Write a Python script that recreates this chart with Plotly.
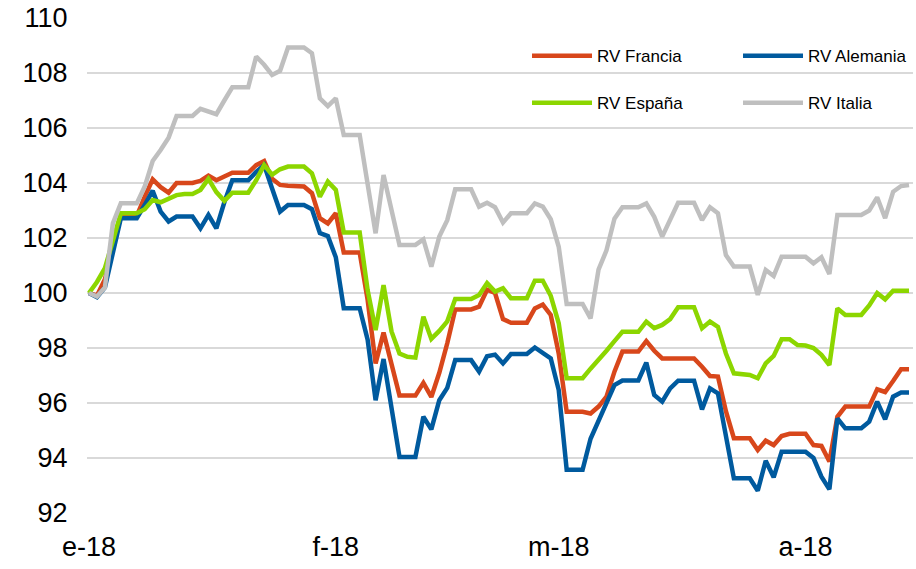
import pandas as pd
import plotly.graph_objects as go

# Daily index levels (base 100 = 1 Jan 2018), weekends carry the last close
dates = pd.date_range("2018-01-01", periods=104, freq="D")

rv_francia = [
    100.0, 99.9, 100.5, 101.6, 102.8, 102.8, 102.8, 103.5, 104.13, 103.85,
    103.65, 104.0, 104.0, 104.0, 104.08, 104.27, 104.1, 104.25, 104.37, 104.37,
    104.37, 104.65, 104.8, 104.15, 103.93, 103.9, 103.88, 103.87, 103.63, 102.72,
    102.53, 102.9, 101.47, 101.47, 101.47, 99.75, 97.44, 98.56, 97.4, 96.27,
    96.27, 96.27, 96.73, 96.22, 97.1, 98.17, 99.4, 99.4, 99.4, 99.5,
    100.12, 100.0, 99.05, 98.92, 98.92, 98.92, 99.44, 99.58, 99.2, 97.8,
    95.68, 95.68, 95.68, 95.62, 95.87, 96.23, 97.14, 97.87, 97.87, 97.87,
    98.25, 97.9, 97.62, 97.62, 97.62, 97.62, 97.62, 97.32, 96.98, 96.96,
    95.7, 94.72, 94.72, 94.72, 94.29, 94.63, 94.47, 94.8, 94.88, 94.88,
    94.88, 94.47, 94.44, 93.87, 95.5, 95.87, 95.87, 95.87, 95.87, 96.5,
    96.4, 96.8, 97.23, 97.23,
]

rv_alemania = [
    100.0, 99.85, 100.2, 101.44, 102.72, 102.72, 102.72, 103.2, 103.72, 102.96,
    102.6, 102.78, 102.78, 102.78, 102.35, 102.84, 102.35, 103.3, 104.1, 104.1,
    104.1, 104.4, 104.65, 103.8, 102.96, 103.2, 103.2, 103.2, 103.05, 102.18,
    102.07, 101.3, 99.45, 99.45, 99.45, 98.3, 96.1, 97.6, 95.75, 94.04,
    94.04, 94.04, 95.5, 95.04, 96.1, 96.55, 97.56, 97.56, 97.56, 97.14,
    97.7, 97.76, 97.44, 97.78, 97.78, 97.78, 98.02, 97.83, 97.62, 96.47,
    93.57, 93.57, 93.57, 94.7, 95.35, 95.93, 96.65, 96.82, 96.82, 96.82,
    97.47, 96.29, 96.05, 96.53, 96.81, 96.81, 96.81, 95.77, 96.53, 96.35,
    94.7, 93.26, 93.26, 93.26, 92.81, 93.9, 93.3, 94.23, 94.23, 94.23,
    94.23, 94.0, 93.32, 92.86, 95.44, 95.08, 95.08, 95.08, 95.32, 96.05,
    95.41, 96.23, 96.38, 96.38,
]

rv_espana = [
    100.0, 100.4, 100.9, 101.9, 102.9, 102.9, 102.9, 103.05, 103.38, 103.3,
    103.45, 103.56, 103.6, 103.6, 103.75, 104.15, 103.67, 103.35, 103.65, 103.65,
    103.65, 104.1, 104.65, 104.3, 104.5, 104.6, 104.6, 104.6, 104.35, 103.5,
    104.05, 103.75, 102.2, 102.2, 102.2, 100.1, 98.65, 100.29, 98.6, 97.8,
    97.68, 97.65, 99.14, 98.33, 98.62, 98.97, 99.78, 99.78, 99.78, 99.93,
    100.36, 100.05, 100.17, 99.81, 99.81, 99.81, 100.45, 100.45, 99.9, 98.9,
    96.9, 96.9, 96.9, 97.25, 97.55, 97.9, 98.25, 98.59, 98.59, 98.59,
    98.96, 98.72, 98.84, 99.05, 99.48, 99.48, 99.48, 98.72, 98.96, 98.77,
    97.8, 97.08, 97.05, 97.02, 96.9, 97.44, 97.71, 98.32, 98.32, 98.11,
    98.09, 98.0, 97.75, 97.38, 99.44, 99.2, 99.2, 99.2, 99.55, 100.0,
    99.77, 100.08, 100.08, 100.08,
]

rv_italia = [
    100.0, 99.87, 100.2, 102.53, 103.26, 103.26, 103.26, 103.87, 104.8, 105.2,
    105.65, 106.44, 106.44, 106.44, 106.7, 106.6, 106.5, 107.0, 107.48, 107.48,
    107.48, 108.6, 108.3, 107.93, 108.08, 108.93, 108.93, 108.93, 108.72, 107.08,
    106.8, 107.08, 105.75, 105.75, 105.75, 103.96, 102.17, 104.29, 103.0, 101.75,
    101.75, 101.75, 101.95, 100.96, 102.05, 102.65, 103.77, 103.77, 103.77, 103.14,
    103.28, 103.12, 102.56, 102.9, 102.9, 102.9, 103.26, 103.14, 102.68, 101.68,
    99.6, 99.6, 99.6, 99.08, 100.85, 101.55, 102.7, 103.12, 103.12, 103.12,
    103.26, 102.77, 102.05, 102.7, 103.28, 103.28, 103.28, 102.65, 103.12, 102.9,
    101.38, 100.96, 100.96, 100.96, 99.93, 100.84, 100.62, 101.32, 101.32, 101.32,
    101.32, 101.08, 101.3, 100.69, 102.84, 102.84, 102.84, 102.84, 103.0, 103.48,
    102.72, 103.68, 103.89, 103.93,
]

month_ticks = ["2018-01-01", "2018-02-01", "2018-03-01", "2018-04-01"]
month_labels = ["e-18", "f-18", "m-18", "a-18"]
y_ticks = [92, 94, 96, 98, 100, 102, 104, 106, 108, 110]

series = [
    ("RV Francia", rv_francia, "#D8471B", "legend", 136),
    ("RV Alemania", rv_alemania, "#005A9E", "legend", 100),
    ("RV España", rv_espana, "#8CD600", "legend2", 136),
    ("RV Italia", rv_italia, "#BFBFBF", "legend2", 100),
]

fig = go.Figure()
for name, values, color, leg, lw in series:
    fig.add_trace(go.Scatter(
        x=dates, y=values, name=name, mode="lines",
        line=dict(color=color, width=4.5),
        legend=leg, legendwidth=lw,
    ))

font_family = "Liberation Sans, Arial, sans-serif"
legend_style = dict(
    orientation="h", xanchor="left", yanchor="middle",
    x=0.5327, itemwidth=60,
    font=dict(family=font_family, size=17, color="#000000"),
    bgcolor="rgba(0,0,0,0)", borderwidth=0,
)

fig.update_layout(
    width=916, height=569,
    margin=dict(l=87, r=3, t=18, b=56, autoexpand=False),
    paper_bgcolor="#FFFFFF", plot_bgcolor="#FFFFFF",
    font=dict(family=font_family, size=27, color="#000000"),
    showlegend=True,
    legend=dict(legend_style, y=0.923),
    legend2=dict(legend_style, y=0.828),
)

fig.update_xaxes(
    type="date",
    range=["2017-12-31 18:00", "2018-04-14 12:00"],
    tickmode="array", tickvals=month_ticks, ticktext=month_labels,
    showgrid=False, zeroline=False, showline=False,
    ticks="outside", ticklen=10, tickcolor="rgba(0,0,0,0)",
    tickfont=dict(size=27),
)
fig.update_yaxes(
    range=[92, 110],
    tickmode="array", tickvals=y_ticks,
    showgrid=True, gridcolor="#D9D9D9", gridwidth=1.5,
    zeroline=False, showline=False,
    ticks="outside", ticklen=13, tickcolor="rgba(0,0,0,0)",
    tickfont=dict(size=27),
)

fig.write_html("out.html")
